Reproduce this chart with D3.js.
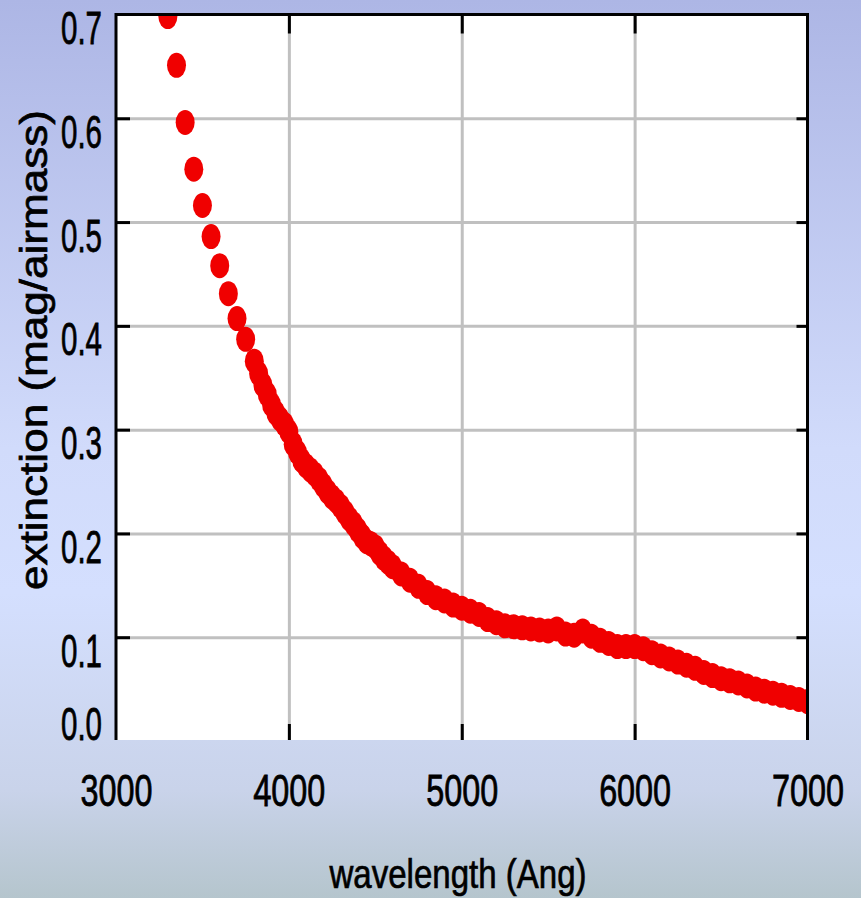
<!DOCTYPE html>
<html>
<head>
<meta charset="utf-8">
<script src="https://cdn.jsdelivr.net/npm/d3@7"></script>
<style>
  body { margin: 0; }
  svg { display: block; }
  text { font-family: "Liberation Sans", Arial, sans-serif; fill: #000; }
</style>
</head>
<body>
<svg id="chart" width="861" height="898"></svg>
<script>
// extinction curve: 50 Ang steps, 25 Ang steps between 3800 and 4600
const wavelengths = [
  3300, 3350, 3400, 3450, 3500, 3550, 3600, 3650, 3700, 3750,
  3800, 3825, 3850, 3875, 3900, 3925, 3950, 3975, 4000, 4025,
  4050, 4075, 4100, 4125, 4150, 4175, 4200, 4225, 4250, 4275,
  4300, 4325, 4350, 4375, 4400, 4425, 4450, 4475, 4500, 4525,
  4550, 4575, 4600, 4650, 4700, 4750,
  4800, 4850, 4900, 4950, 5000, 5050, 5100, 5150, 5200, 5250,
  5300, 5350, 5400, 5450, 5500, 5550, 5600, 5650, 5700, 5750,
  5800, 5850, 5900, 5950, 6000, 6050, 6100, 6150, 6200, 6250,
  6300, 6350, 6400, 6450, 6500, 6550, 6600, 6650, 6700, 6750,
  6800, 6850, 6900, 6950, 7000
];
const extinction = [
  0.698, 0.651, 0.596, 0.551, 0.516, 0.486, 0.458, 0.431, 0.407, 0.387,
  0.366, 0.354, 0.343, 0.334, 0.324, 0.316, 0.310, 0.305, 0.298, 0.286,
  0.278, 0.270, 0.265, 0.261, 0.257, 0.252, 0.246, 0.240, 0.235, 0.231,
  0.226, 0.220, 0.214, 0.209, 0.203, 0.197, 0.192, 0.190, 0.187, 0.181,
  0.176, 0.172, 0.168, 0.161, 0.155, 0.149,
  0.143, 0.138, 0.135, 0.131, 0.128, 0.125, 0.122, 0.117, 0.114, 0.111,
  0.110, 0.109, 0.108, 0.107, 0.106, 0.108, 0.103, 0.102, 0.106, 0.101,
  0.097, 0.094, 0.091, 0.091, 0.091, 0.089, 0.085, 0.082, 0.079, 0.076,
  0.073, 0.070, 0.066, 0.063, 0.060, 0.058, 0.056, 0.053, 0.050, 0.048,
  0.046, 0.044, 0.042, 0.040, 0.038
];
const xTicks = [3000, 4000, 5000, 6000, 7000];
const yTicks = [0.0, 0.1, 0.2, 0.3, 0.4, 0.5, 0.6, 0.7];

const svg = d3.select("#chart");

// page background
const defs = svg.append("defs");
const grad = defs.append("linearGradient")
  .attr("id", "bg").attr("x1", 0).attr("y1", 0).attr("x2", 0).attr("y2", 1);
grad.append("stop").attr("offset", "0%").attr("stop-color", "#adb6e5");
grad.append("stop").attr("offset", "50%").attr("stop-color", "#d1dbfb");
grad.append("stop").attr("offset", "66%").attr("stop-color", "#d4dffe");
grad.append("stop").attr("offset", "88%").attr("stop-color", "#c9d3ea");
grad.append("stop").attr("offset", "100%").attr("stop-color", "#b5c5cd");
svg.append("rect").attr("width", 861).attr("height", 898).attr("fill", "url(#bg)");

const plotLeft = 116, plotRight = 807.5, plotTop = 14.5, plotBottom = 740;

const x = d3.scaleLinear().domain([3000, 7000]).range([plotLeft, plotRight]);
const y = d3.scaleLinear().domain([0, 0.7]).range([741, plotTop]);

defs.append("clipPath").attr("id", "plotclip")
  .append("rect")
  .attr("x", plotLeft).attr("y", plotTop)
  .attr("width", plotRight - plotLeft).attr("height", plotBottom - plotTop);

svg.append("rect")
  .attr("x", plotLeft).attr("y", plotTop)
  .attr("width", plotRight - plotLeft).attr("height", plotBottom - plotTop)
  .attr("fill", "#fff");

// grid
const gridY = svg.append("g")
  .attr("transform", `translate(${plotLeft},0)`)
  .call(d3.axisLeft(y).tickValues(yTicks.filter(d => d > 0 && d < 0.7))
    .tickSize(-(plotRight - plotLeft)).tickFormat(""));
const gridX = svg.append("g")
  .attr("transform", `translate(0,${plotBottom})`)
  .call(d3.axisBottom(x).tickValues(xTicks.slice(1, -1))
    .tickSize(-(plotBottom - plotTop)).tickFormat(""));
[gridY, gridX].forEach(g => {
  g.select(".domain").remove();
  g.selectAll("line").attr("stroke", "#c0c0c0").attr("stroke-width", 3);
});

// data
svg.append("g")
  .attr("clip-path", "url(#plotclip)")
  .selectAll("ellipse")
  .data(wavelengths)
  .enter()
  .append("ellipse")
  .attr("cx", (d, i) => x(d))
  .attr("cy", (d, i) => y(extinction[i]))
  .attr("rx", 9.5)
  .attr("ry", 12.5)
  .attr("fill", "#f00000");

// inner tick marks
const tickMarks = [
  svg.append("g").attr("transform", `translate(${plotLeft},0)`)
    .call(d3.axisRight(y).tickValues(yTicks.slice(1, -1)).tickSize(14).tickFormat("")),
  svg.append("g").attr("transform", `translate(${plotRight},0)`)
    .call(d3.axisLeft(y).tickValues(yTicks.slice(1, -1)).tickSize(11).tickFormat("")),
  svg.append("g").attr("transform", `translate(0,${plotBottom})`)
    .call(d3.axisTop(x).tickValues(xTicks.slice(1, -1)).tickSize(16).tickFormat("")),
  svg.append("g").attr("transform", `translate(0,${plotTop})`)
    .call(d3.axisBottom(x).tickValues(xTicks.slice(1, -1)).tickSize(19).tickFormat(""))
];
tickMarks.forEach(g => {
  g.select(".domain").remove();
  g.selectAll("line").attr("stroke", "#000").attr("stroke-width", 3);
});

// frame: left, top, right (no bottom line)
svg.append("path")
  .attr("d", `M${plotLeft},${plotBottom}V${plotTop}H${plotRight}V${plotBottom}`)
  .attr("fill", "none")
  .attr("stroke", "#000")
  .attr("stroke-width", 3);

// tick labels
const yLabels = svg.append("g")
  .attr("transform", `translate(${plotLeft},0)`)
  .call(d3.axisLeft(y).tickValues(yTicks).tickSize(0).tickPadding(14).tickFormat(d3.format(".1f")));
yLabels.select(".domain").remove();
yLabels.selectAll("text")
  .attr("font-size", 46)
  .attr("font-family", null)
  .attr("dy", null)
  .attr("y", d => Math.min(29, 739 - y(d)))
  .attr("textLength", 41)
  .attr("lengthAdjust", "spacingAndGlyphs")
  .attr("stroke", "#000")
  .attr("stroke-width", 0.8);

const xLabels = svg.append("g")
  .attr("transform", `translate(0,${plotBottom})`)
  .call(d3.axisBottom(x).tickValues(xTicks).tickSize(0).tickFormat(d3.format("d")));
xLabels.select(".domain").remove();
xLabels.selectAll("text")
  .attr("font-size", 44)
  .attr("font-family", null)
  .attr("dy", null)
  .attr("y", 66)
  .attr("textLength", 72)
  .attr("lengthAdjust", "spacingAndGlyphs")
  .attr("stroke", "#000")
  .attr("stroke-width", 0.8);

// axis titles
svg.append("text")
  .attr("x", 458).attr("y", 888)
  .attr("text-anchor", "middle")
  .attr("font-size", 40)
  .attr("textLength", 257)
  .attr("lengthAdjust", "spacingAndGlyphs")
  .attr("stroke", "#000")
  .attr("stroke-width", 0.7)
  .text("wavelength (Ang)");

svg.append("text")
  .attr("transform", "translate(47,350) rotate(-90)")
  .attr("text-anchor", "middle")
  .attr("font-size", 38)
  .attr("textLength", 480)
  .attr("lengthAdjust", "spacingAndGlyphs")
  .attr("stroke", "#000")
  .attr("stroke-width", 0.7)
  .text("extinction (mag/airmass)");
</script>
</body>
</html>
